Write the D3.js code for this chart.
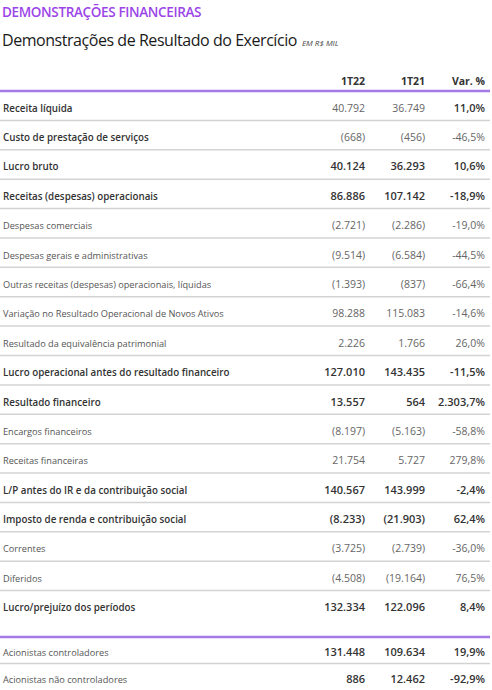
<!DOCTYPE html>
<html>
<head>
<meta charset="utf-8">
<script src="https://cdn.jsdelivr.net/npm/d3@7"></script>
<style>
  body { margin: 0; background: #fff; }
  svg { display: block; font-family: 'Open Sans', sans-serif; }
</style>
</head>
<body>
<div id="chart"></div>
<script>
(function() {
  'use strict';

  // Table content (R$ mil)
  const columns = ['1T22', '1T21', 'Var. %'];

  const labels = [
    'Receita líquida',
    'Custo de prestação de serviços',
    'Lucro bruto',
    'Receitas (despesas) operacionais',
    'Despesas comerciais',
    'Despesas gerais e administrativas',
    'Outras receitas (despesas) operacionais, líquidas',
    'Variação no Resultado Operacional de Novos Ativos',
    'Resultado da equivalência patrimonial',
    'Lucro operacional antes do resultado financeiro',
    'Resultado financeiro',
    'Encargos financeiros',
    'Receitas financeiras',
    'L/P antes do IR e da contribuição social',
    'Imposto de renda e contribuição social',
    'Correntes',
    'Diferidos',
    'Lucro/prejuízo dos períodos'
  ];
  const values1T22 = [40792, -668, 40124, 86886, -2721, -9514, -1393, 98288, 2226,
    127010, 13557, -8197, 21754, 140567, -8233, -3725, -4508, 132334];
  const values1T21 = [36749, -456, 36293, 107142, -2286, -6584, -837, 115083, 1766,
    143435, 564, -5163, 5727, 143999, -21903, -2739, -19164, 122096];
  const variation = [11.0, -46.5, 10.6, -18.9, -19.0, -44.5, -66.4, -14.6, 26.0,
    -11.5, 2303.7, -58.8, 279.8, -2.4, 62.4, -36.0, 76.5, 8.4];
  // row kind: revenue | cost | total | detail
  const rowKind = ['revenue', 'cost', 'total', 'total', 'detail', 'detail', 'detail',
    'detail', 'detail', 'total', 'total', 'detail', 'detail', 'total', 'total',
    'detail', 'detail', 'total'];

  const holderLabels = ['Acionistas controladores', 'Acionistas não controladores'];
  const holder1T22 = [131448, 886];
  const holder1T21 = [109634, 12462];
  const holderVariation = [19.9, -92.9];

  const width = 492;
  const height = 690;
  const purple = '#a47ae8';
  const rule = '#d3d3d3';

  const ptBR = d3.formatLocale({
    decimal: ',', thousands: '.', grouping: [3], currency: ['R$', ''], minus: '-'
  });
  const fmtValue = ptBR.format('(,.0f');
  const fmtPct = function(v) { return ptBR.format(',.1f')(v) + '%'; };

  const svg = d3.select('#chart')
    .append('svg')
    .attr('width', width)
    .attr('height', height);

  // Titles
  svg.append('text')
    .attr('x', 2)
    .attr('y', 17)
    .attr('fill', '#9b45e8')
    .style('font-size', '13.5px')
    .style('font-weight', 600)
    .style('letter-spacing', '-0.35px')
    .text('DEMONSTRAÇÕES FINANCEIRAS');

  const sub = svg.append('text')
    .attr('x', 2)
    .attr('y', 46)
    .attr('fill', '#1a1a1a')
    .style('font-size', '16px')
    .style('letter-spacing', '-0.45px');
  sub.append('tspan').text('Demonstrações de Resultado do Exercício');
  sub.append('tspan')
    .attr('dx', 5)
    .attr('fill', '#444')
    .style('font-size', '8px')
    .style('letter-spacing', '0px')
    .style('font-style', 'italic')
    .text('EM R$ MIL');

  // Column positions (right-aligned)
  const x = d3.scalePoint()
    .domain(columns)
    .range([365, 485]);

  // Header
  svg.append('g')
    .selectAll('text')
    .data(columns)
    .enter()
    .append('text')
    .attr('x', function(d) { return x(d); })
    .attr('y', 85)
    .attr('text-anchor', 'end')
    .attr('fill', '#333')
    .style('font-size', '10.5px')
    .style('font-weight', 700)
    .text(function(d) { return d; });

  const mainRows = labels.map(function(label, i) {
    return { label: label, a: values1T22[i], b: values1T21[i], v: variation[i], kind: rowKind[i] };
  });
  const holderRows = holderLabels.map(function(label, i) {
    return { label: label, a: holder1T22[i], b: holder1T21[i], v: holderVariation[i], kind: 'holder' };
  });

  const yMain = d3.scaleBand()
    .domain(d3.range(mainRows.length))
    .range([91, 620]);
  const yHolder = d3.scaleBand()
    .domain(d3.range(holderRows.length))
    .range([637, 690]);

  function boldLabel(kind) { return kind !== 'detail' && kind !== 'holder'; }
  function boldValues(kind) { return kind === 'total' || kind === 'holder'; }
  function boldVar(kind) { return kind === 'total' || kind === 'holder' || kind === 'revenue'; }

  function drawRows(rows, y, lastRule) {
    const g = svg.append('g');
    const row = g.selectAll('g.row')
      .data(rows)
      .enter()
      .append('g')
      .attr('class', 'row')
      .attr('transform', function(d, i) { return 'translate(0,' + y(i) + ')'; });

    const bw = y.bandwidth();
    const mid = bw * 0.55 + 4.5;

    row.filter(function(d, i) { return lastRule || i < rows.length - 1; })
      .append('line')
      .attr('x1', 0)
      .attr('x2', 490)
      .attr('y1', bw)
      .attr('y2', bw)
      .attr('stroke', rule)
      .attr('stroke-width', 1.5);

    row.append('text')
      .attr('x', 3)
      .attr('y', mid)
      .attr('fill', function(d) { return boldLabel(d.kind) ? '#333' : '#555'; })
      .style('font-size', function(d) { return boldLabel(d.kind) ? '9.8px' : '9.2px'; })
      .style('font-weight', function(d) { return boldLabel(d.kind) ? 600 : 400; })
      .text(function(d) { return d.label; });

    const cells = [
      { col: '1T22', get: function(d) { return fmtValue(d.a); }, bold: boldValues },
      { col: '1T21', get: function(d) { return fmtValue(d.b); }, bold: boldValues },
      { col: 'Var. %', get: function(d) { return fmtPct(d.v); }, bold: boldVar }
    ];
    cells.forEach(function(c) {
      row.append('text')
        .attr('x', x(c.col))
        .attr('y', mid)
        .attr('text-anchor', 'end')
        .attr('fill', function(d) { return c.bold(d.kind) ? '#333' : '#666'; })
        .style('font-size', function(d) { return c.bold(d.kind) ? '11px' : '10.5px'; })
        .style('font-weight', function(d) { return c.bold(d.kind) ? 600 : 400; })
        .text(c.get);
    });
  }

  drawRows(mainRows, yMain, false);
  drawRows(holderRows, yHolder, false);

  // Purple rules
  [yMain.range()[0], yHolder.range()[0]].forEach(function(yy) {
    svg.append('line')
      .attr('x1', 0)
      .attr('x2', 490)
      .attr('y1', yy)
      .attr('y2', yy)
      .attr('stroke', purple)
      .attr('stroke-width', 2.5);
  });
})();
</script>
</body>
</html>
